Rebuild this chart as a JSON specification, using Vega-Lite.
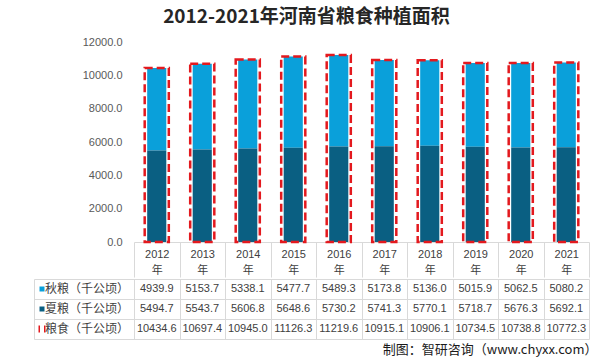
{
  "$schema": "https://vega.github.io/schema/vega-lite/v6.json",
  "background": "white",
  "padding": {"left": 33, "top": 8, "right": 15, "bottom": 7},
  "title": {"text": "2012-2021年河南省粮食种植面积", "anchor": "middle", "font": "Noto Sans CJK SC", "fontSize": 19, "fontWeight": "bold", "color": "#262626", "offset": 9, "dx": -9},
  "data": {"values": [
    {"year": "2012", "type": "秋粮（千公顷）", "value": 4939.9},
    {"year": "2013", "type": "秋粮（千公顷）", "value": 5153.7},
    {"year": "2014", "type": "秋粮（千公顷）", "value": 5338.1},
    {"year": "2015", "type": "秋粮（千公顷）", "value": 5477.7},
    {"year": "2016", "type": "秋粮（千公顷）", "value": 5489.3},
    {"year": "2017", "type": "秋粮（千公顷）", "value": 5173.8},
    {"year": "2018", "type": "秋粮（千公顷）", "value": 5136.0},
    {"year": "2019", "type": "秋粮（千公顷）", "value": 5015.9},
    {"year": "2020", "type": "秋粮（千公顷）", "value": 5062.5},
    {"year": "2021", "type": "秋粮（千公顷）", "value": 5080.2},
    {"year": "2012", "type": "夏粮（千公顷）", "value": 5494.7},
    {"year": "2013", "type": "夏粮（千公顷）", "value": 5543.7},
    {"year": "2014", "type": "夏粮（千公顷）", "value": 5606.8},
    {"year": "2015", "type": "夏粮（千公顷）", "value": 5648.6},
    {"year": "2016", "type": "夏粮（千公顷）", "value": 5730.2},
    {"year": "2017", "type": "夏粮（千公顷）", "value": 5741.3},
    {"year": "2018", "type": "夏粮（千公顷）", "value": 5770.1},
    {"year": "2019", "type": "夏粮（千公顷）", "value": 5718.7},
    {"year": "2020", "type": "夏粮（千公顷）", "value": 5676.3},
    {"year": "2021", "type": "夏粮（千公顷）", "value": 5692.1},
    {"year": "2012", "type": "粮食（千公顷）", "value": 10434.6},
    {"year": "2013", "type": "粮食（千公顷）", "value": 10697.4},
    {"year": "2014", "type": "粮食（千公顷）", "value": 10945.0},
    {"year": "2015", "type": "粮食（千公顷）", "value": 11126.3},
    {"year": "2016", "type": "粮食（千公顷）", "value": 11219.6},
    {"year": "2017", "type": "粮食（千公顷）", "value": 10915.1},
    {"year": "2018", "type": "粮食（千公顷）", "value": 10906.1},
    {"year": "2019", "type": "粮食（千公顷）", "value": 10734.5},
    {"year": "2020", "type": "粮食（千公顷）", "value": 10738.8},
    {"year": "2021", "type": "粮食（千公顷）", "value": 10772.3}
  ]},
  "spacing": 0,
  "resolve": {"scale": {"color": "independent"}, "legend": {"color": "independent"}},
  "config": {"view": {"stroke": null}, "axisY": {"labelOverlap": false, "labelSeparation": 0}},
  "vconcat": [
    {
      "width": 455,
      "height": 200,
      "layer": [
        {
          "transform": [{"filter": "datum.type !== '粮食（千公顷）'"}],
          "mark": {"type": "bar", "width": {"band": 0.42}},
          "encoding": {
            "x": {"field": "year", "type": "nominal", "scale": {"paddingInner": 0, "paddingOuter": 0},
              "axis": {"title": null, "labelAngle": 0, "labelExpr": "datum.label ? [datum.label, '年'] : ''", "labelFont": "Liberation Sans, Noto Sans CJK SC", "labelFontSize": 11, "labelColor": "#404040", "labelLineHeight": 16, "labelPadding": -29, "labelBaseline": "top", "labelOverlap": false, "tickBand": "extent", "tickSize": 35, "tickColor": "#D9D9D9", "domainColor": "#D9D9D9", "grid": false}},
            "y": {"field": "value", "type": "quantitative", "stack": "zero", "scale": {"domain": [0, 12000]},
              "axis": {"title": null, "values": [0, 2000, 4000, 6000, 8000, 10000, 12000], "tickCount": 7, "format": ".1f", "labelOverlap": false, "labelFont": "Liberation Sans", "labelFontSize": 11, "labelColor": "#595959", "domain": false, "ticks": false, "tickSize": 0, "labelPadding": 12, "grid": false}},
            "color": {"field": "type", "type": "nominal", "scale": {"domain": ["秋粮（千公顷）", "夏粮（千公顷）"], "range": ["#0AA0DA", "#0A5F82"]}, "legend": null},
            "order": {"field": "type", "sort": "ascending"}
          }
        },
        {
          "transform": [{"filter": "datum.type === '粮食（千公顷）'"}],
          "mark": {"type": "bar", "width": {"band": 0.53}, "fill": "transparent", "stroke": "#E3191E", "strokeWidth": 2.5, "strokeDash": [8, 4]},
          "encoding": {
            "x": {"field": "year", "type": "nominal"},
            "y": {"field": "value", "type": "quantitative", "stack": null,
              "axis": {"title": null, "values": [0, 2000, 4000, 6000, 8000, 10000, 12000], "tickCount": 7, "format": ".1f", "labelOverlap": false, "labelFont": "Liberation Sans", "labelFontSize": 11, "labelColor": "#595959", "domain": false, "ticks": false, "tickSize": 0, "labelPadding": 12, "grid": false}}
          }
        }
      ]
    },
    {
      "width": 455,
      "height": 60,
      "title": {"text": "制图：智研咨询（www.chyxx.com）", "orient": "bottom", "anchor": "end", "font": "Noto Sans CJK SC", "fontSize": 13, "fontWeight": "normal", "color": "#1A1A1A", "offset": 4, "dx": 8},
      "layer": [
        {
          "mark": {"type": "text", "font": "Liberation Sans", "fontSize": 11, "color": "#404040"},
          "encoding": {
            "x": {"field": "year", "type": "nominal", "scale": {"paddingInner": 0, "paddingOuter": 0},
              "axis": {"title": null, "grid": true, "tickBand": "extent", "labels": false, "ticks": false, "domain": false, "gridColor": "#D9D9D9"}},
            "y": {"field": "type", "type": "nominal", "sort": ["秋粮（千公顷）", "夏粮（千公顷）", "粮食（千公顷）"], "scale": {"paddingInner": 0, "paddingOuter": 0},
              "axis": {"title": null, "labels": false, "offset": 100, "domainColor": "#D9D9D9", "tickColor": "#D9D9D9", "tickSize": -555, "tickBand": "extent", "grid": false}},
            "text": {"field": "value", "type": "quantitative", "format": ".1f"}
          }
        },
        {
          "mark": {"type": "square", "opacity": 0},
          "encoding": {
            "x": {"field": "year", "type": "nominal"},
            "y": {"field": "type", "type": "nominal", "sort": ["秋粮（千公顷）", "夏粮（千公顷）", "粮食（千公顷）"]},
            "color": {"field": "type", "type": "nominal",
              "scale": {"domain": ["秋粮（千公顷）", "夏粮（千公顷）", "粮食（千公顷）"], "range": ["#0AA0DA", "#0A5F82", "#E3191E"]},
              "legend": {"title": null, "orient": "none", "legendX": -98, "legendY": 4, "direction": "vertical", "padding": 0,
                "labelFont": "Noto Sans CJK SC", "labelFontSize": 12, "labelColor": "#404040", "symbolSize": 25, "rowPadding": 8, "labelOffset": -3,
                "encode": {"symbols": {"update": {
                  "shape": {"signal": "datum.value === '粮食（千公顷）' ? 'M-1.4,-1.4H-0.8V1.4H-1.4Z M0.8,-1.4H1.4V1.4H0.8Z' : 'square'"},
                  "fill": {"signal": "datum.value === '秋粮（千公顷）' ? '#0AA0DA' : datum.value === '夏粮（千公顷）' ? '#0A5F82' : '#E3191E'"},
                  "opacity": {"value": 1},
                  "fillOpacity": {"value": 1},
                  "strokeWidth": {"value": 0}
                }}}}
            }
          }
        }
      ]
    }
  ]
}
